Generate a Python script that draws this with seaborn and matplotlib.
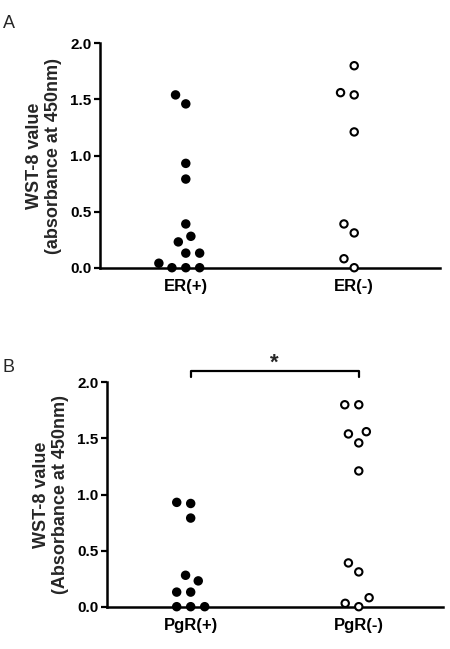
import matplotlib
matplotlib.use("Agg")
import matplotlib.pyplot as plt
import seaborn as sns
import pandas as pd

# values (WST-8 absorbance at 450 nm)
er_labels = ["ER(+)", "ER(-)"]
er_pos = [1.54, 1.46, 0.93, 0.79, 0.39, 0.28, 0.23, 0.13, 0.13, 0.04, 0.0, 0.0, 0.0]
er_neg = [1.80, 1.56, 1.54, 1.21, 0.39, 0.31, 0.08, 0.0]

pgr_labels = ["PgR(+)", "PgR(-)"]
pgr_pos = [0.93, 0.92, 0.79, 0.28, 0.23, 0.13, 0.13, 0.0, 0.0, 0.0]
pgr_neg = [1.80, 1.80, 1.56, 1.54, 1.46, 1.21, 0.39, 0.31, 0.08, 0.03, 0.0]

y_ticks = [0.0, 0.5, 1.0, 1.5, 2.0]

sns.set_style("ticks")
plt.rcParams["font.family"] = ["Liberation Sans", "DejaVu Sans"]


def make_frame(labels, pos, neg):
    return pd.DataFrame({
        "group": [labels[0]] * len(pos) + [labels[1]] * len(neg),
        "value": pos + neg,
    })


def draw_panel(fig, ax, labels, pos, neg, ylabel):
    df = make_frame(labels, pos, neg)
    ax.set_ylim(0, 2.0)
    sns.swarmplot(data=df, x="group", y="value", hue="group", order=labels,
                  palette={labels[0]: "black", labels[1]: "white"},
                  edgecolor="black", linewidth=1.2, size=8.4,
                  legend=False, clip_on=False, zorder=3, ax=ax)
    ax.set_xlim(-0.5, 1.5)
    ax.set_ylim(0, 2.0)
    # lay out the swarm with wide spacing, then shrink the dots
    fig.canvas.draw()
    for coll in ax.collections:
        if "draw" in coll.__dict__:
            del coll.draw
        coll.set_sizes([5.3 ** 2])
        coll.set_linewidth(1.5)

    ax.set_yticks(y_ticks)
    ax.set_yticklabels([f"{t:.1f}" for t in y_ticks], fontsize=11, fontweight="bold")
    ax.set_xticks([0, 1])
    ax.set_xticklabels(labels, fontsize=12, fontweight="bold")
    ax.set_xlabel("")
    ax.set_ylabel(ylabel, fontsize=13, fontweight="bold", labelpad=6, linespacing=1.15)
    ax.tick_params(axis="y", length=4.5, width=1.6, pad=1.5, colors="black")
    ax.tick_params(axis="x", length=0, pad=8, colors="black")
    sns.despine(ax=ax)
    for side in ["left", "bottom"]:
        ax.spines[side].set_linewidth(1.8)
        ax.spines[side].set_color("black")


fig = plt.figure(figsize=(4.5, 6.49), dpi=100)
ax_a = fig.add_axes([0.222, 0.5875, 0.756, 0.3458])
ax_b = fig.add_axes([0.237, 0.0652, 0.747, 0.3457])

draw_panel(fig, ax_a, er_labels, er_pos, er_neg,
           "WST-8 value\n(absorbance at 450nm)")
ax_a.set_xlim(-0.51, 1.51)
draw_panel(fig, ax_b, pgr_labels, pgr_pos, pgr_neg,
           "WST-8 value\n(Absorbance at 450nm)")

# significance bracket on panel B
ax_b.plot([0, 0, 1, 1], [2.05, 2.10, 2.10, 2.05], color="black",
          linewidth=1.6, clip_on=False)
ax_b.text(0.5, 2.08, "*", ha="center", va="bottom", fontsize=16,
          fontweight="bold")

fig.text(3 / 450, 1 - 28 / 649, "A", fontsize=13, va="baseline")
fig.text(3 / 450, 1 - 372 / 649, "B", fontsize=13, va="baseline")

fig.savefig("out.png", dpi=100)
